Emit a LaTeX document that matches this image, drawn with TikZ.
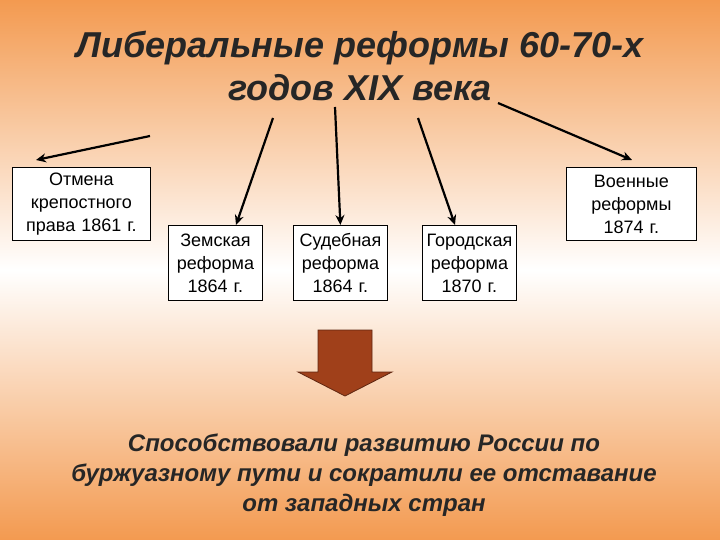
\documentclass[tikz,border=0pt]{standalone}
\usepackage{fontspec}
\usetikzlibrary{arrows.meta}
\setmainfont{Liberation Sans}
\definecolor{bgor}{HTML}{F39A50}
\definecolor{brn}{HTML}{A0401A}
\begin{document}
\begin{tikzpicture}[x=1pt,y=-1pt,
  box/.style={draw=black,fill=white,line width=0.8pt,align=center,font=\fontsize{18}{23}\selectfont,inner sep=1pt,anchor=north west},
  conn/.style={line width=2.2pt,-{Stealth[length=10pt,width=9pt]}}]
\useasboundingbox (0,0) rectangle (720,540);
\shade[top color=bgor,bottom color=bgor,middle color=white] (0,0) rectangle (720,540);
\node[font=\fontsize{36}{43}\selectfont\bfseries\itshape,align=center,text=black!85] (t) at (360,66) {Либеральные реформы 60-70-х\\годов XIX века};
\node[box,minimum width=138pt,minimum height=73pt,text width=134pt] (b1) at (12,167) {Отмена\\крепостного\\права 1861 г.};
\node[box,minimum width=94pt,minimum height=75pt,text width=92pt] (b2) at (168,225) {Земская\\реформа\\1864 г.};
\node[box,minimum width=94pt,minimum height=75pt,text width=92pt] (b3) at (293,225) {Судебная\\реформа\\1864 г.};
\node[box,minimum width=94pt,minimum height=75pt,text width=92pt] (b4) at (422,225) {Городская\\реформа\\1870 г.};
\node[box,minimum width=130pt,minimum height=73pt,text width=126pt] (b5) at (566,167) {Военные\\реформы\\1874 г.};
\coordinate (s1) at (150,136);
\coordinate (s2) at (273,118);
\coordinate (s3) at (335,107);
\coordinate (s4) at (418,118);
\coordinate (s5) at (498,103);
\coordinate (e1) at (36,160);
\coordinate (e2) at (236,225);
\coordinate (e4) at (455,225);
\coordinate (e5) at (632,160);
\draw[conn] (s1) -- (e1);
\draw[conn] (s2) -- (e2);
\draw[conn] (s3) -- (b3.north);
\draw[conn] (s4) -- (e4);
\draw[conn] (s5) -- (e5);
\draw[fill=brn,draw=brn!60!black,line width=0.8pt] (318,330) -- (372,330) -- (372,372) -- (392,372) -- (345,396) -- (298,372) -- (318,372) -- cycle;
\node[font=\fontsize{24}{30}\selectfont\bfseries\itshape,align=center,text=black!85] (c) at (364,475) {Способствовали развитию России по\\буржуазному пути и сократили ее отставание\\от западных стран};
\end{tikzpicture}
\end{document}
